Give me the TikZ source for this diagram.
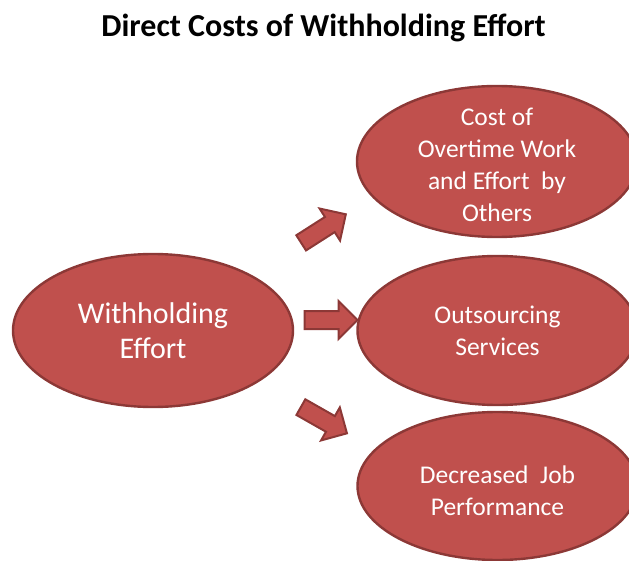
\documentclass[tikz,border=0pt]{standalone}
\usepackage{fontspec}
\setmainfont{Carlito}
\usetikzlibrary{shapes.geometric, shapes.arrows}
\definecolor{bubblered}{HTML}{C0504D}
\definecolor{bubbleedge}{HTML}{8C3836}

\begin{document}
\begin{tikzpicture}[x=1pt, y=-1pt,
    bubble/.style={ellipse, draw=bubbleedge, line width=2.4pt, fill=bubblered,
        minimum width=280pt, minimum height=151pt, inner sep=0pt},
    bubbletext/.style={text=white, align=center, inner sep=0pt},
    blockarrow/.style={single arrow, draw=bubbleedge, line width=2pt, fill=bubblered,
        inner sep=8pt, minimum height=53pt, single arrow head extend=10pt}]
    \useasboundingbox (0,0) rectangle (629,561);

    % Title
    \node[anchor=base, font=\bfseries\fontsize{32}{38}\selectfont] (title) at (323.5,37)
        {Direct Costs of Withholding Effort};

    % Draw the ellipses
    \node[bubble, minimum height=153pt] (effort) at (153,330.5) {};
    \node[bubble] (overtime) at (497,161.5) {};
    \node[bubble, minimum height=149pt] (outsource) at (497.5,330.5) {};
    \node[bubble, minimum height=148pt] (perform) at (497.5,486) {};

    % Texts in the ellipses
    \node[bubbletext, font=\fontsize{30}{35}\selectfont] at (effort) {Withholding\\Effort};
    \node[bubbletext, font=\fontsize{25.5}{32}\selectfont] at ([yshift=-3pt]overtime)
        {Cost of\\Overtime Work\\and Effort\ \ by\\Others};
    \node[bubbletext, font=\fontsize{25.5}{32}\selectfont] at (outsource) {Outsourcing\\Services};
    \node[bubbletext, font=\fontsize{25.5}{32}\selectfont] at ([yshift=-5pt]perform) {Decreased\ \ Job\\Performance};

    % Block arrows
    \node[blockarrow, rotate=32.6] (arrtop) at (319.7,231) {};
    \node[blockarrow] (arrmid) at (326.5,320) {};
    \node[blockarrow, rotate=-29.6] (arrbot) at (320,418) {};
\end{tikzpicture}
\end{document}
